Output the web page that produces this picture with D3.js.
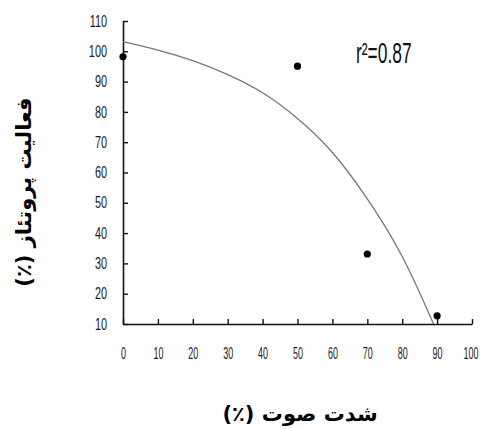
<!DOCTYPE html>
<html>
<head>
<meta charset="utf-8">
<script src="https://cdn.jsdelivr.net/npm/d3@7"></script>
<style>
  html, body { margin: 0; padding: 0; background: #fff; }
  svg { display: block; }
</style>
</head>
<body>
<svg id="chart" width="480" height="429"></svg>
<script>
// ---- data ----
const pointX = [0, 50, 70, 90];
const pointY = [98.2, 95.1, 33.1, 12.7];
// fitted trend curve
const fitX = [0, 10, 20, 30, 40, 50, 60, 70, 80, 89];
const fitY = [103.2, 100.4, 96.9, 92.3, 86.3, 77.8, 66.6, 51.3, 32.3, 10];
const xTicks = [0, 10, 20, 30, 40, 50, 60, 70, 80, 90, 100];
const yTicks = [10, 20, 30, 40, 50, 60, 70, 80, 90, 100, 110];
const xTitle = "شدت صوت (٪)";
const yTitle = "فعالیت پروتئاز (٪)";
const r2Label = "r²=0.87";

// ---- drawing ----
const svg = d3.select("#chart");
const x = d3.scaleLinear().domain([0, 100]).range([123, 472]);
const y = d3.scaleLinear().domain([10, 110]).range([324, 21]);

const digitFont = "'Liberation Sans', Arial, sans-serif";

// condense text horizontally around its anchor point
function condense(sel, factor) {
  sel.each(function () {
    const t = d3.select(this);
    const tx = +t.attr("x") || 0;
    t.attr("x", 0).attr("transform", `translate(${tx},0) scale(${factor},1)`);
  });
}

// y axis
const gy = svg.append("g")
  .attr("transform", `translate(${x(0)},0)`)
  .call(d3.axisLeft(y).tickValues(yTicks).tickSizeInner(-5).tickSizeOuter(0).tickPadding(16));
gy.select(".domain").attr("stroke", "#111").attr("stroke-width", 1.6);
gy.selectAll(".tick line").attr("stroke", "#111").attr("stroke-width", 1.4);
gy.selectAll(".tick text")
  .attr("font-family", digitFont).attr("font-size", 16).attr("fill", "#1a1a2a")
  .call(condense, 0.68);

// x axis
const gx = svg.append("g")
  .attr("transform", `translate(0,${y(10)})`)
  .call(d3.axisBottom(x).tickValues(xTicks).tickSizeInner(-5).tickSizeOuter(0).tickPadding(24));
gx.select(".domain").attr("stroke", "#111").attr("stroke-width", 1.6);
gx.selectAll(".tick line").attr("stroke", "#111").attr("stroke-width", 1.4);
gx.selectAll(".tick text")
  .attr("font-family", digitFont).attr("font-size", 16).attr("fill", "#1a1a2a")
  .attr("x", d => d === 100 ? -1.5 : 0)
  .call(condense, 0.56);

// trend curve
const fit = fitX.map((d, i) => [d, fitY[i]]);
svg.append("path")
  .datum(fit)
  .attr("fill", "none")
  .attr("stroke", "#777")
  .attr("stroke-width", 1.3)
  .attr("d", d3.line().x(d => x(d[0])).y(d => y(d[1])).curve(d3.curveNatural));

// points
svg.append("g").selectAll("circle")
  .data(pointX.map((d, i) => [d, pointY[i]]))
  .join("circle")
  .attr("cx", d => x(d[0]))
  .attr("cy", d => y(d[1]))
  .attr("r", 3.6)
  .attr("fill", "#000");

// r^2 annotation
svg.append("text")
  .attr("x", 356).attr("y", 63)
  .attr("font-family", digitFont).attr("font-size", 29).attr("fill", "#111")
  .text(r2Label)
  .call(condense, 0.6);

// axis titles
svg.append("text")
  .attr("x", 300).attr("y", 421)
  .attr("text-anchor", "middle")
  .attr("direction", "rtl")
  .attr("font-family", "'DejaVu Sans', sans-serif")
  .attr("font-weight", "bold")
  .attr("font-size", 21)
  .attr("fill", "#000")
  .text(xTitle);

svg.append("text")
  .attr("transform", "translate(31,192) rotate(-90)")
  .attr("text-anchor", "middle")
  .attr("direction", "rtl")
  .attr("font-family", "'DejaVu Sans', sans-serif")
  .attr("font-weight", "bold")
  .attr("font-size", 21)
  .attr("fill", "#000")
  .text(yTitle);
</script>
</body>
</html>
